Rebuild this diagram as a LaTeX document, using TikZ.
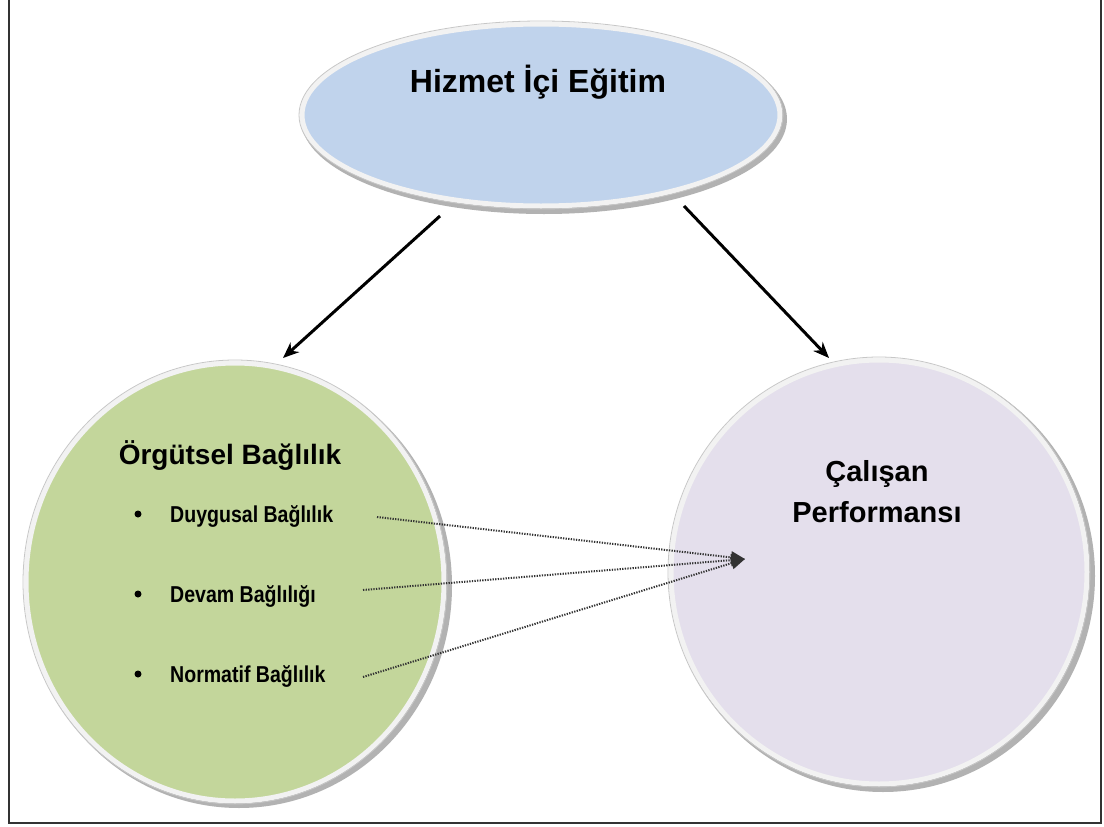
\documentclass[tikz,border=0pt]{standalone}
\usepackage{fontspec}
\usepackage{graphicx}
\setmainfont{Liberation Sans}
\usetikzlibrary{arrows.meta}
\definecolor{ellblue}{HTML}{C0D3EC}
\definecolor{circgreen}{HTML}{C3D69B}
\definecolor{circpurple}{HTML}{E4DFEC}
\definecolor{framegray}{HTML}{333333}
\tikzset{
  shadowshape/.style={fill=black!30, draw=none},
  shapering/.style={draw=white!95!black, line width=5bp},
  shapeedge/.style={draw=black!22, line width=0.8bp},
  titletext/.style={font=\bfseries\fontsize{32bp}{36bp}\selectfont, anchor=base},
  headtext/.style={font=\bfseries\fontsize{28bp}{32bp}\selectfont, anchor=base},
  perftext/.style={font=\bfseries\fontsize{29bp}{41bp}\selectfont, align=center, anchor=base},
  itemtext/.style={font=\bfseries\fontsize{23bp}{26bp}\selectfont, anchor=base west, inner sep=0pt},
  bulletdot/.style={circle, fill=black, inner sep=0pt, minimum size=7bp},
  mainarrow/.style={line width=3bp, -{Stealth[length=16bp, width=13bp]}},
  dotarrow/.style={dash pattern=on 1.3bp off 1.3bp, line width=2bp, black!80, -{Triangle[length=14bp, width=12bp]}},
  framestyle/.style={draw=framegray, line width=2bp}
}
\begin{document}
\begin{tikzpicture}[x=1bp, y=-1bp]
\useasboundingbox (0,0) rectangle (1104,827);
\fill[white] (0,0) rectangle (1104,827);
% frame
\draw[framestyle] (9,0) -- (9,823) -- (1101,823) -- (1101,0);

% ellipse
\fill[shadowshape] (544,119) ellipse [x radius=243, y radius=95];
\filldraw[fill=ellblue, shapering] (541,115) ellipse [x radius=239, y radius=91];
\draw[shapeedge] (541,115) ellipse [x radius=242, y radius=94];
\node[titletext] (hie) at (538,92) {Hizmet İçi Eğitim};

% green circle
\fill[shadowshape] (239,586) ellipse [x radius=213, y radius=222];
\filldraw[fill=circgreen, shapering] (235,582) ellipse [x radius=209, y radius=219];
\draw[shapeedge] (235,582) ellipse [x radius=212, y radius=222];
\node[headtext] (ob) at (230,464) {Örgütsel Bağlılık};
\node[bulletdot] (b1) at (138,514) {};
\node[bulletdot] (b2) at (138,594) {};
\node[bulletdot] (b3) at (138,674) {};
\node[itemtext] (d1) at (170,522) {\scalebox{0.85}[1]{Duygusal Bağlılık}};
\node[itemtext] (d2) at (170,602) {\scalebox{0.85}[1]{Devam Bağlılığı}};
\node[itemtext] (d3) at (170,682) {\scalebox{0.85}[1]{Normatif Bağlılık}};

% purple circle
\fill[shadowshape] (883,576) ellipse [x radius=212, y radius=216];
\filldraw[fill=circpurple, shapering] (879,572) ellipse [x radius=208, y radius=212];
\draw[shapeedge] (879,572) ellipse [x radius=211, y radius=215];
\node[perftext] (cp) at (877,522) {Çalışan\\Performansı};

% main arrows
\coordinate (a1s) at (440,216);
\coordinate (a1e) at (283,358);
\coordinate (a2s) at (684,206);
\coordinate (a2e) at (829,358);
\draw[mainarrow] (a1s) -- (a1e);
\draw[mainarrow] (a2s) -- (a2e);

% dotted connectors
\coordinate (s1) at (377,517);
\coordinate (s2) at (363,590);
\coordinate (s3) at (363,677);
\coordinate (tip) at (745,559);
\draw[dotarrow] (s1) -- (tip);
\draw[dotarrow] (s2) -- (tip);
\draw[dotarrow] (s3) -- (tip);
\end{tikzpicture}
\end{document}
